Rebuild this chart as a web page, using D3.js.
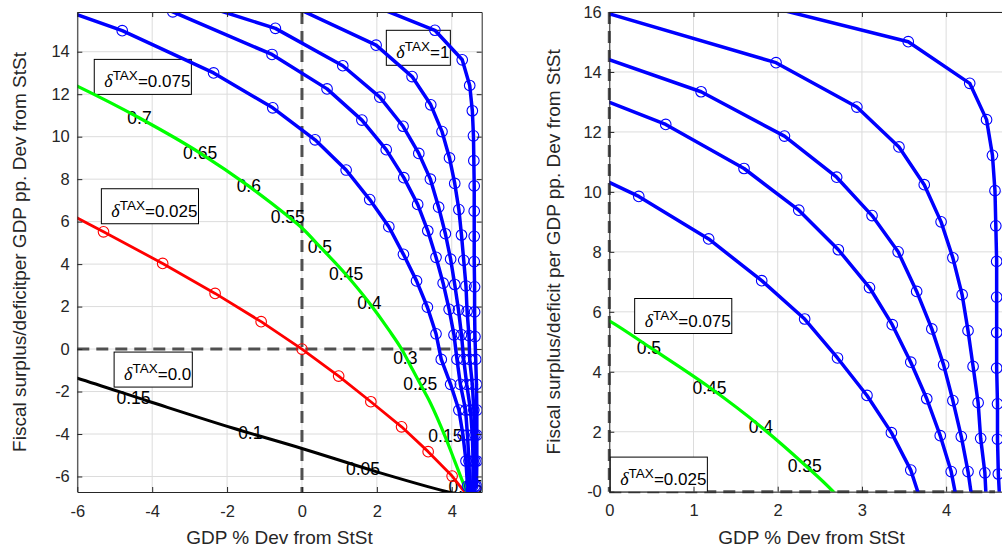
<!DOCTYPE html>
<html>
<head>
<meta charset="utf-8">
<script src="https://cdn.jsdelivr.net/npm/d3@7"></script>
<style>
  body { margin: 0; background: #fff; }
  svg text { font-family: "Liberation Sans", Arial, Helvetica, sans-serif; }
</style>
</head>
<body>
<div id="chart"></div>
<script>
// each frontier is a list of [GDP % dev, fiscal balance pp.]
// (a few points sit just outside the axes so the lines run to the edge)
var deltaZero = [[-6.5, -1.1], [-6, -1.37], [-4.06, -2.48], [-1.83, -3.73], [0, -4.68],
                 [2.0, -5.78], [3.88, -6.72], [4.45, -6.97]]

var deltaQuarter = [[-6.95, 7.05], [-5.30, 5.52], [-3.72, 4.03], [-2.32, 2.62], [-1.09, 1.29],
                    [0, 0], [0.98, -1.27], [1.84, -2.48], [2.66, -3.66], [3.37, -4.83],
                    [4.01, -5.98], [4.45, -6.97]]

var deltaSevenHalf = [[-6.5, 12.8], [-6, 12.38], [-4.34, 10.88], [-2.72, 9.23], [-1.42, 7.67],
                      [-0.38, 6.26], [0, 5.7], [0.48, 4.82], [1.18, 3.50], [1.80, 2.17],
                      [2.32, 0.9], [2.66, 0.0], [2.96, -0.99], [3.16, -1.65], [3.43, -2.54],
                      [3.83, -4.15], [4.1, -5.37], [4.45, -6.97]]

var blueA = [[-7.2, 16.5], [-4.8, 14.99], [-2.36, 13.0], [-0.78, 11.36], [0.35, 9.85], [1.18, 8.43],
             [1.81, 7.04], [2.32, 5.76], [2.71, 4.46], [3.06, 3.21], [3.35, 1.97], [3.58, 0.72],
             [3.72, -0.49], [3.97, -1.66], [4.19, -2.87], [4.30, -4.05], [4.38, -5.27],
             [4.42, -6.45], [4.45, -6.97]]

var blueB = [[-6.5, 18.2], [-3.45, 15.88], [-0.8, 13.87], [0.67, 12.25], [1.60, 10.78], [2.25, 9.39],
             [2.72, 8.07], [3.09, 6.81], [3.36, 5.57], [3.58, 4.32], [3.77, 3.10], [3.93, 1.87],
             [4.06, 0.67], [4.14, -0.49], [4.23, -1.66], [4.37, -2.87], [4.42, -4.05],
             [4.46, -5.27], [4.48, -6.45], [4.45, -6.97]]

var blueC = [[-2.5, 16.1], [-0.71, 15.1], [1.09, 13.34], [2.08, 11.86], [2.70, 10.49], [3.12, 9.21],
             [3.43, 8.0], [3.65, 6.68], [3.83, 5.43], [3.97, 4.23], [4.08, 3.04], [4.18, 1.84],
             [4.26, 0.67], [4.32, -0.49], [4.40, -1.66], [4.50, -2.87], [4.55, -4.05],
             [4.57, -5.27], [4.56, -6.45], [4.45, -6.97]]

var blueD = [[-0.5, 16.35], [1.98, 14.31], [2.94, 12.83], [3.44, 11.5], [3.74, 10.24], [3.94, 9.0],
             [4.08, 7.8], [4.19, 6.57], [4.26, 5.37], [4.32, 4.18], [4.38, 2.97], [4.41, 1.78],
             [4.46, 0.63], [4.48, -0.49], [4.55, -1.66], [4.59, -2.87], [4.62, -4.05],
             [4.62, -5.27], [4.62, -6.45], [4.45, -6.97]]

var deltaOne = [[1.5, 16.45], [3.55, 15.01], [4.28, 13.62], [4.48, 12.41], [4.55, 11.22], [4.58, 10.04],
                [4.59, 8.87], [4.60, 7.68], [4.60, 6.49], [4.60, 5.31], [4.60, 4.12], [4.61, 2.93],
                [4.61, 1.75], [4.62, 0.59], [4.64, -0.49], [4.66, -1.66], [4.67, -2.87],
                [4.67, -4.05], [4.67, -5.27], [4.66, -6.45], [4.45, -6.97]]

// tax rate labels along the curves [text, x, y]
var leftRateLabels = [["0.7", -4.34, 10.88], ["0.65", -2.72, 9.23], ["0.6", -1.42, 7.67],
                      ["0.55", -0.38, 6.21], ["0.5", 0.48, 4.80], ["0.45", 1.18, 3.53],
                      ["0.4", 1.80, 2.17], ["0.3", 2.76, -0.42], ["0.25", 3.16, -1.65],
                      ["0.15", 3.83, -4.10], ["0.05", 4.37, -6.5],
                      ["0.15", -4.5, -2.31], ["0.1", -1.38, -3.95], ["0.05", 1.63, -5.65]]
var rightRateLabels = [["0.5", 0.47, 4.81], ["0.45", 1.19, 3.45], ["0.4", 1.80, 2.17], ["0.35", 2.32, 0.86]]

// delta^TAX boxes [value, x, y] (text start / baseline)
var leftDeltaBoxes = [["0.075", -5.28, 12.32], ["0.025", -5.09, 6.23], ["0.0", -4.75, -1.46], ["1", 2.52, 13.69]]
var rightDeltaBoxes = [["0.075", 0.42, 5.51], ["0.025", 0.13, 0.22]]

var leftXTicks = [-6, -4, -2, 0, 2, 4]
var leftYTicks = [-6, -4, -2, 0, 2, 4, 6, 8, 10, 12, 14]
var rightXTicks = [0, 1, 2, 3, 4]
var rightYTicks = [0, 2, 4, 6, 8, 10, 12, 14, 16]
var rightYTickText = ["-0", "2", "4", "6", "8", "10", "12", "14", "16"]

var xTitle = "GDP % Dev from StSt"
var leftYTitle = "Fiscal surplus/deficitper GDP pp. Dev from StSt"
var rightYTitle = "Fiscal surplus/deficit per GDP pp. Dev from StSt"

var axisColor = "#262626"
var blue = "#0000ff"

var blueStyle = { color: blue, width: 3.5, markers: true, smooth: false }
var leftCurves = [
    { data: deltaZero, color: "#000", width: 3, markers: false, smooth: true },
    { data: deltaQuarter, color: "#ff0000", width: 2.8, markers: true, smooth: false },
    { data: deltaSevenHalf, color: "#00ff00", width: 3.2, markers: false, smooth: true },
    Object.assign({ data: blueA }, blueStyle),
    Object.assign({ data: blueB }, blueStyle),
    Object.assign({ data: blueC }, blueStyle),
    Object.assign({ data: blueD }, blueStyle),
    Object.assign({ data: deltaOne }, blueStyle)
]
var rightCurves = leftCurves.slice(2)

var svg = d3.select("#chart").append("svg")
            .attr("width", 1002)
            .attr("height", 550)

function drawPanel(p) {
    var x = d3.scaleLinear().domain(p.xDomain).range([p.left, p.right])
    var y = d3.scaleLinear().domain(p.yDomain).range([p.bottom, p.top])
    var w = p.right - p.left, h = p.bottom - p.top

    svg.append("clipPath").attr("id", "clip-" + p.name)
       .append("rect").attr("x", p.left).attr("y", p.top).attr("width", w).attr("height", h)

    var g = svg.append("g")

    // grid
    g.append("g").selectAll("line").data(p.xTicks).join("line")
        .attr("x1", d => x(d)).attr("x2", d => x(d))
        .attr("y1", p.top).attr("y2", p.bottom)
        .attr("stroke", "#dcdcdc").attr("stroke-width", 1)
    g.append("g").selectAll("line").data(p.yTicks).join("line")
        .attr("x1", p.left).attr("x2", p.right)
        .attr("y1", d => y(d)).attr("y2", d => y(d))
        .attr("stroke", "#dcdcdc").attr("stroke-width", 1)

    // zero reference lines
    var dash = g.append("g").attr("stroke", "#505050").attr("stroke-width", 3)
                .attr("stroke-dasharray", "12,7").attr("fill", "none")
    dash.append("line").attr("x1", x(0)).attr("x2", x(0)).attr("y1", y(p.yDomain[1])).attr("y2", y(p.yDomain[0]))
    dash.append("line").attr("x1", x(p.hDash[0])).attr("x2", x(p.hDash[1])).attr("y1", y(0)).attr("y2", y(0))

    var inner = g.append("g").attr("clip-path", "url(#clip-" + p.name + ")")

    // tax rate labels sit under the lines
    inner.append("g").selectAll("text").data(p.labels).join("text")
        .attr("x", d => x(d[1])).attr("y", d => y(d[2]))
        .attr("dy", "0.35em")
        .attr("text-anchor", "middle")
        .attr("font-size", 17.5)
        .attr("fill", "#000")
        .text(d => d[0])

    // delta^TAX boxes
    p.boxes.forEach(function(b) {
        var bx = x(b[1]), by = y(b[2])
        var box = inner.append("g")
        var rect = box.append("rect")
        var t = box.append("text").attr("x", bx).attr("y", by).attr("font-size", 17).attr("fill", "#000")
        t.append("tspan").attr("font-family", '"Liberation Serif", "Times New Roman", serif')
         .attr("font-style", "italic").attr("font-size", 18).text("δ")
        t.append("tspan").attr("dy", -7).attr("font-size", 13.5).text("TAX")
        t.append("tspan").attr("dy", 7).text("=" + b[0])
        var len = t.node().getComputedTextLength()
        rect.attr("x", bx - 10).attr("y", by - 28)
            .attr("width", len + 11).attr("height", 35)
            .attr("fill", "#fff").attr("stroke", "#000").attr("stroke-width", 1)
    })

    // frontiers
    p.curves.forEach(function(c) {
        var line = d3.line().x(d => x(d[0])).y(d => y(d[1]))
        if (c.smooth) line.curve(d3.curveMonotoneX)
        inner.append("path").datum(c.data)
            .attr("d", line)
            .attr("fill", "none")
            .attr("stroke", c.color)
            .attr("stroke-width", c.width)
            .attr("stroke-linejoin", "round")
    })
    p.curves.filter(c => c.markers).forEach(function(c) {
        inner.append("g").selectAll("circle").data(c.data).join("circle")
            .attr("cx", d => x(d[0])).attr("cy", d => y(d[1]))
            .attr("r", 5.3)
            .attr("fill", "none")
            .attr("stroke", c.color)
            .attr("stroke-width", 1.1)
    })

    // axes: inward ticks on all four sides, labels on bottom / left
    var bottom = d3.axisBottom(x).tickValues(p.xTicks).tickSizeInner(-5).tickSizeOuter(0)
                   .tickPadding(13).tickFormat(d => String(d))
    var left = d3.axisLeft(y).tickValues(p.yTicks).tickSizeInner(-5).tickSizeOuter(0)
                 .tickPadding(7.5).tickFormat((d, i) => p.yTickText[i])
    var top = d3.axisTop(x).tickValues(p.xTicks).tickSizeInner(-5).tickSizeOuter(0).tickFormat("")
    var right = d3.axisRight(y).tickValues(p.yTicks).tickSizeInner(-5).tickSizeOuter(0).tickFormat("")

    var axes = [
        g.append("g").attr("transform", `translate(0, ${p.bottom})`).call(bottom),
        g.append("g").attr("transform", `translate(${p.left}, 0)`).call(left),
        g.append("g").attr("transform", `translate(0, ${p.top})`).call(top),
        g.append("g").attr("transform", `translate(${p.right}, 0)`).call(right)
    ]
    axes.forEach(function(a) {
        a.select(".domain").attr("stroke", axisColor).attr("stroke-width", 1)
        a.selectAll(".tick line").attr("stroke", axisColor)
        a.selectAll("text").attr("fill", axisColor).attr("font-size", 16.5)
            .attr("font-family", '"Liberation Sans", Arial, sans-serif')
    })

    // titles
    g.append("text")
        .attr("x", (p.left + p.right) / 2).attr("y", 543.5)
        .attr("text-anchor", "middle").attr("font-size", 19).attr("fill", axisColor)
        .text(xTitle)
    g.append("text")
        .attr("transform", `translate(${p.yTitleX}, ${(p.top + p.bottom) / 2}) rotate(-90)`)
        .attr("text-anchor", "middle").attr("font-size", 19).attr("fill", axisColor)
        .text(p.yTitle)
}

drawPanel({
    name: "left", left: 77.3, right: 481.7, top: 12, bottom: 492,
    xDomain: [-6, 4.8], yDomain: [-6.73, 15.87],
    xTicks: leftXTicks, yTicks: leftYTicks, yTickText: leftYTicks.map(String),
    yTitle: leftYTitle, yTitleX: 25.5,
    hDash: [-6, 4.58],
    curves: leftCurves, labels: leftRateLabels, boxes: leftDeltaBoxes
})

drawPanel({
    name: "right", left: 609.3, right: 1013.5, top: 12, bottom: 491.7,
    xDomain: [0, 4.8], yDomain: [0, 16],
    xTicks: rightXTicks, yTicks: rightYTicks, yTickText: rightYTickText,
    yTitle: rightYTitle, yTitleX: 560,
    hDash: [0, 4.58],
    curves: rightCurves, labels: rightRateLabels, boxes: rightDeltaBoxes
})
</script>
</body>
</html>
